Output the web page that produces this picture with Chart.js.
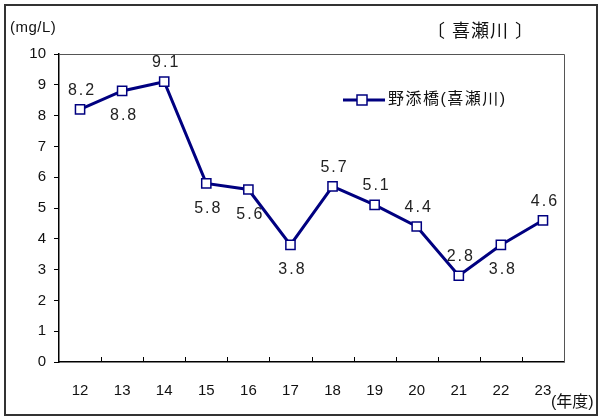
<!DOCTYPE html>
<html>
<head>
<meta charset="utf-8">
<script src="https://cdn.jsdelivr.net/npm/chart.js@4"></script>
<style>
  html, body { margin: 0; padding: 0; background: #fff; }
  #wrap { width: 600px; height: 417px; position: relative; }
</style>
</head>
<body>
<div id="wrap"><canvas id="bodChart"></canvas></div>
<script>
const years = ['12', '13', '14', '15', '16', '17', '18', '19', '20', '21', '22', '23'];
const bodValues = [8.2, 8.8, 9.1, 5.8, 5.6, 3.8, 5.7, 5.1, 4.4, 2.8, 3.8, 4.6];
const seriesName = '野添橋(喜瀬川)';
const riverTitle = '〔 喜瀬川 〕';
const unitLabel = '(mg/L)';
const yearLabel = '(年度)';

// where each value label sits relative to its point
const labelSide = ['up', 'down', 'up', 'down', 'down', 'down', 'up', 'up', 'up', 'up', 'down', 'up'];

const navy = '#000080';
const font = "Arial, 'Liberation Sans', 'Noto Sans CJK JP', sans-serif";

const decorPlugin = {
    id: 'decor',
    afterDraw(chart) {
        const ctx = chart.ctx;
        const area = chart.chartArea;
        const x = chart.scales.x;
        ctx.save();

        // outer frame
        ctx.strokeStyle = '#333';
        ctx.lineWidth = 2;
        ctx.strokeRect(5, 5, 592, 410);

        // plot box top/right
        ctx.strokeStyle = '#555';
        ctx.lineWidth = 1;
        ctx.beginPath();
        ctx.moveTo(area.left, area.top + 0.5);
        ctx.lineTo(area.right + 0.5, area.top + 0.5);
        ctx.lineTo(area.right + 0.5, area.bottom);
        ctx.stroke();

        // inner ticks on the category axis
        ctx.strokeStyle = '#000';
        ctx.lineWidth = 1;
        ctx.beginPath();
        for (let i = 1; i < years.length; i++) {
            const gx = Math.round((x.getPixelForValue(i - 1) + x.getPixelForValue(i)) / 2) + 0.5;
            ctx.moveTo(gx, area.bottom);
            ctx.lineTo(gx, area.bottom - 5);
        }
        ctx.stroke();

        // value labels
        ctx.fillStyle = '#222';
        ctx.font = '16px ' + font;
        ctx.letterSpacing = '2px';
        ctx.textAlign = 'center';
        ctx.textBaseline = 'middle';
        const meta = chart.getDatasetMeta(0);
        meta.data.forEach((pt, i) => {
            const dy = labelSide[i] === 'up' ? -19 : 25;
            ctx.fillText(bodValues[i].toFixed(1), pt.x + 2, pt.y + dy);
        });

        // texts
        ctx.fillStyle = '#111';
        ctx.textAlign = 'left';
        ctx.letterSpacing = '0.5px';
        ctx.font = '15px ' + font;
        ctx.fillText(unitLabel, 10, 28);
        ctx.letterSpacing = '0px';
        ctx.font = '16px ' + font;
        ctx.fillText(yearLabel, 551, 403);
        ctx.letterSpacing = '1px';
        ctx.font = '18px ' + font;
        ctx.fillText(riverTitle, 427, 32);

        // legend
        const ly = 100;
        ctx.strokeStyle = navy;
        ctx.lineWidth = 3;
        ctx.beginPath();
        ctx.moveTo(343, ly);
        ctx.lineTo(385, ly);
        ctx.stroke();
        ctx.fillStyle = '#fff';
        ctx.lineWidth = 1.5;
        ctx.fillRect(357, ly - 5, 10, 10);
        ctx.strokeRect(357, ly - 5, 10, 10);
        ctx.fillStyle = '#111';
        ctx.letterSpacing = '1.5px';
        ctx.font = '16px ' + font;
        ctx.fillText(seriesName, 388, ly);

        ctx.restore();
    }
};

new Chart(document.getElementById('bodChart'), {
    type: 'line',
    data: {
        labels: years,
        datasets: [{
            label: seriesName,
            data: bodValues,
            borderColor: navy,
            borderWidth: 3,
            pointStyle: 'rect',
            pointRadius: 6.5,
            pointBorderWidth: 1.5,
            pointBackgroundColor: '#fff',
            pointBorderColor: navy,
            tension: 0
        }]
    },
    options: {
        responsive: true,
        maintainAspectRatio: false,
        animation: false,
        layout: { padding: { left: 0, right: 36, top: 54, bottom: 0 } },
        plugins: {
            legend: { display: false },
            tooltip: { enabled: false }
        },
        scales: {
            x: {
                offset: true,
                grid: { display: false },
                border: { color: '#000', width: 1.5 },
                ticks: { color: '#111', font: { family: font, size: 15 }, padding: 12, maxRotation: 0 },
                afterFit: (s) => { s.height = 55; }
            },
            y: {
                min: 0,
                max: 10,
                ticks: { stepSize: 1, color: '#111', font: { family: font, size: 15 }, padding: 8 },
                grid: { drawOnChartArea: false, tickLength: 5, color: '#000' },
                border: { color: '#000', width: 1.5 },
                afterFit: (s) => { s.width = 59; }
            }
        }
    },
    plugins: [decorPlugin]
});
</script>
</body>
</html>
